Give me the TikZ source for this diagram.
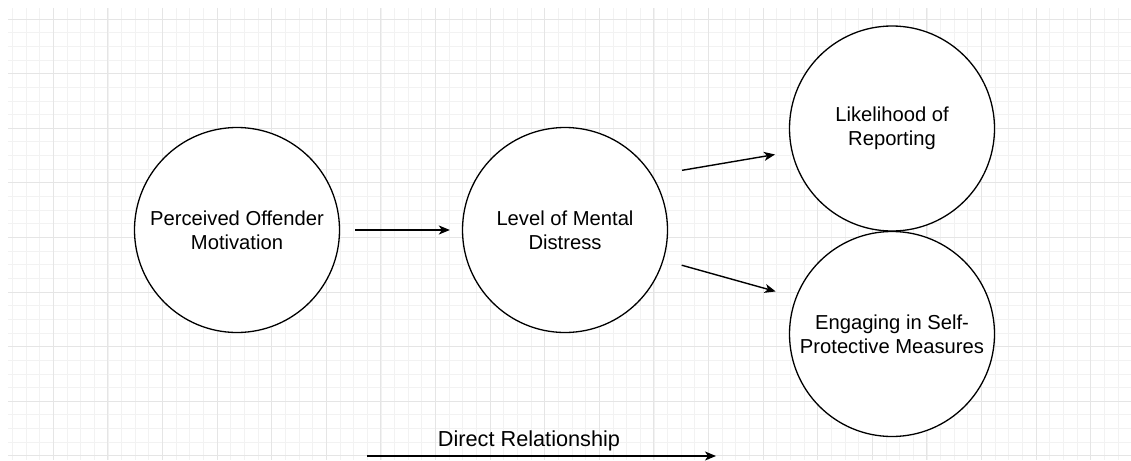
\documentclass[tikz,border=0pt]{standalone}
\usepackage{fontspec}
\setmainfont{Liberation Sans}
\usetikzlibrary{arrows.meta}
\begin{document}
\begin{tikzpicture}[x=1pt, y=-1pt,
  var/.style={circle, draw, line width=1.3pt, minimum size=205pt, inner sep=0pt, align=center, font=\fontsize{20.2}{24}\selectfont},
  rel/.style={line width=1.4pt, -{Stealth[length=11pt, width=9pt, inset=3pt]}},
  minorline/.style={black!5, line width=0.8pt},
  majorline/.style={black!10, line width=0.9pt}]
\useasboundingbox (0,0) rectangle (1131,460);
\foreach \k in {-3,...,78}{
  \pgfmathsetmacro{\gx}{53.3+13.65*\k}
  \draw[minorline] (\gx,8) -- (\gx,460);
}
\foreach \k in {0,...,32}{
  \pgfmathsetmacro{\gy}{19+13.65*\k}
  \draw[minorline] (8,\gy) -- (1131,\gy);
}
\foreach \k in {0,...,19}{
  \pgfmathsetmacro{\gx}{53.3+54.6*\k}
  \draw[majorline] (\gx,8) -- (\gx,460);
}
\foreach \k in {0,...,8}{
  \pgfmathsetmacro{\gy}{19+54.6*\k}
  \draw[majorline] (8,\gy) -- (1131,\gy);
}
\node[var, fill=white] (v0) at (237,230) {Perceived Offender\\Motivation};
\node[var, fill=white] (v1) at (565,230) {Level of Mental\\Distress};
\node[var, fill=white] (v2) at (892,128.5) {Likelihood of\\Reporting};
\node[var, fill=white] (v3) at (892,334) {Engaging in Self-\\Protective Measures};
\draw[rel, shorten <=15pt, shorten >=12pt] (v0) -- (v1);
\draw[rel, shorten <=30pt, shorten >=16.7pt] (v1.32.6) -- (v2.193.8);
\draw[rel, shorten <=18.7pt, shorten >=20.8pt] (v1.-17) -- (v3.159.8);
\coordinate (dr0) at (367,456);
\coordinate (dr1) at (716,456);
\draw[rel] (dr0) -- (dr1);
\node[anchor=base, font=\fontsize{21.7}{25}\selectfont] (drlab) at (529,446) {Direct Relationship};
\end{tikzpicture}
\end{document}
